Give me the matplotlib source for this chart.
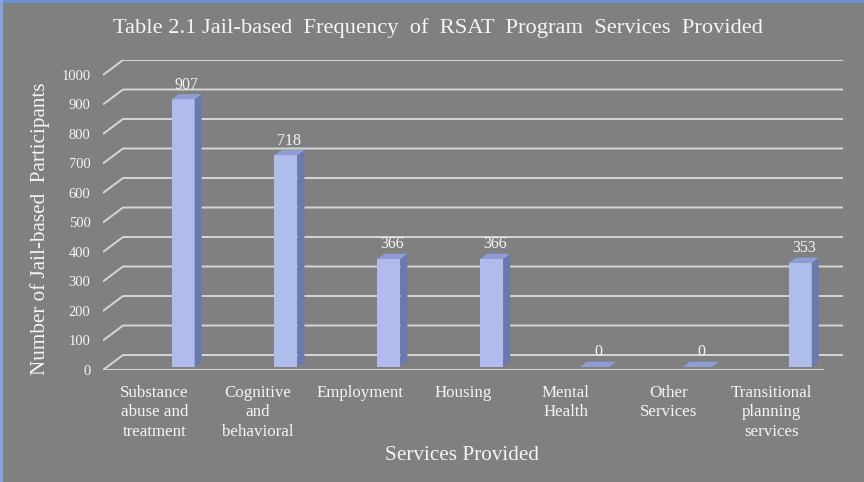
import matplotlib
matplotlib.use("Agg")
import matplotlib.pyplot as plt
from matplotlib.patches import Polygon, Rectangle

categories = [
    "Substance\nabuse and\ntreatment",
    "Cognitive\nand\nbehavioral",
    "Employment",
    "Housing",
    "Mental\nHealth",
    "Other\nServices",
    "Transitional\nplanning\nservices",
]
participants = [907, 718, 366, 366, 0, 0, 353]
y_ticks = list(range(0, 1001, 100))

BG = "#808080"
GRID = "#d6d6d6"
TEXT = "#f4f4f4"
FRONT = "#b0bdec"
SIDE = "#6a7aae"
TOP = "#8f9dd4"

plt.rcParams["font.family"] = ["Liberation Serif", "DejaVu Serif"]

fig = plt.figure(figsize=(8.64, 4.82), dpi=100, facecolor=BG)
ax = fig.add_axes([103 / 864, 112 / 482, 740 / 864, 310 / 482])
ax.set_facecolor("none")
for s in ax.spines.values():
    s.set_visible(False)

n = len(categories)
x0, x1 = -0.5, n - 0.5
ddx, ddy = 0.1944, 50.8          # depth of the 3d box, in data units
ax.set_xlim(x0, x1 + ddx)
ax.set_ylim(0, 1000 + ddy)

# back wall gridlines + left side diagonals
for v in y_ticks:
    ax.plot([x0, x0 + ddx, x1 + ddx], [v, v + ddy, v + ddy],
            color=GRID, lw=1.4, zorder=1, solid_capstyle="butt")
# floor front edge
ax.plot([x0, x1], [0, 0], color=GRID, lw=1.4, zorder=1)

# 3d bars
w, shift, f0, f1 = 0.224, 0.24, 0.2, 0.55
for i, v in enumerate(participants):
    xl = i + shift - w / 2 + f0 * ddx
    xr = xl + w
    yb = f0 * ddy
    yt = v + yb
    dx, dy = (f1 - f0) * ddx, (f1 - f0) * ddy
    if v > 0:
        ax.add_patch(Polygon([(xl, yb), (xr, yb), (xr, yt), (xl, yt)],
                             closed=True, fc=FRONT, ec="none", zorder=3))
        ax.add_patch(Polygon([(xr, yb), (xr + dx, yb + dy), (xr + dx, yt + dy), (xr, yt)],
                             closed=True, fc=SIDE, ec="none", zorder=3))
        top_x = [xl, xr, xr + dx, xl + dx]
    else:
        # flat plate for an empty bar, a little wider like the original
        top_x = [xl - 0.03, xr + 0.03, xr + dx + 0.03, xl + dx - 0.03]
    ax.add_patch(Polygon(list(zip(top_x, [yt, yt, yt + dy, yt + dy])),
                         closed=True, fc=TOP, ec="none", zorder=3))
    ax.annotate(str(v), ((xl + xr + dx) / 2, yt + dy), xytext=(0, 1),
                textcoords="offset points", ha="center", va="bottom",
                color=TEXT, fontsize=11.5, zorder=4)

ax.set_yticks(y_ticks)
ax.set_yticklabels([str(t) for t in y_ticks])
ax.set_xticks(range(n))
ax.set_xticklabels(categories, linespacing=1.32)
ax.tick_params(axis="y", length=0, pad=9, labelsize=10.5, labelcolor=TEXT)
ax.tick_params(axis="x", length=0, pad=10.5, labelsize=12.2, labelcolor=TEXT)

fig.text(438 / 864, 1 - 28 / 482, "Table 2.1 Jail-based  Frequency  of  RSAT  Program  Services  Provided",
         ha="center", va="center", color=TEXT, fontsize=16.2)
fig.text(40 / 864, 1 - 229 / 482, "Number of Jail-based  Participants",
         ha="center", va="center", rotation=90, color=TEXT, fontsize=15.2)
fig.text(462 / 864, 1 - 455 / 482, "Services Provided",
         ha="center", va="center", color=TEXT, fontsize=15.3)

# blue frame on the top and left edges
fig.add_artist(Rectangle((0, 1 - 3 / 482), 1, 3 / 482, transform=fig.transFigure,
                         fc="#6b90d2", ec="none"))
fig.add_artist(Rectangle((0, 0), 3 / 864, 1, transform=fig.transFigure,
                         fc="#86a4dc", ec="none"))

fig.savefig("out.png", dpi=100, facecolor=BG)
